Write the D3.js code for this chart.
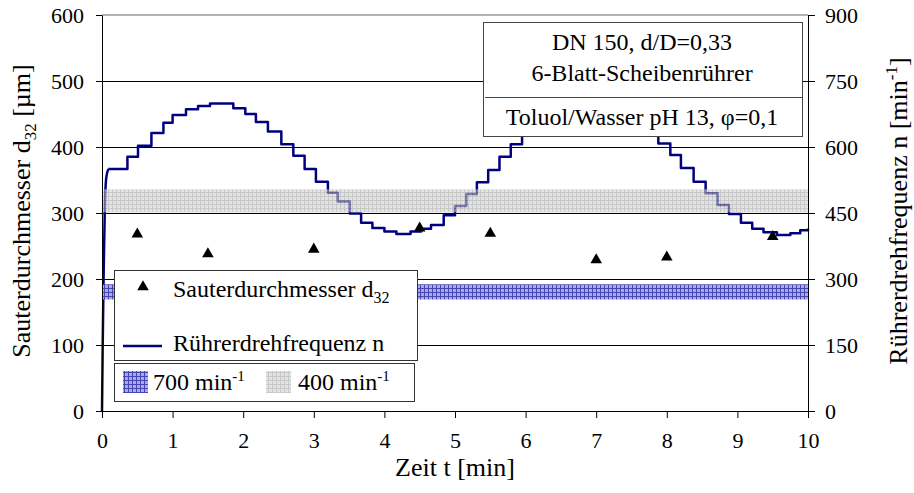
<!DOCTYPE html>
<html>
<head>
<meta charset="utf-8">
<script src="https://cdn.jsdelivr.net/npm/d3@7"></script>
<style>
  body { margin: 0; background: #fff; font-family: 'Times New Roman', 'Liberation Serif', Tinos, serif; }
  svg text, svg tspan { font-family: 'Times New Roman', 'Liberation Serif', Tinos, serif !important; }
</style>
</head>
<body>
<script>
// Sauter diameter measurements
var sampleTime = [0.5, 1.5, 3, 4.5, 5.5, 7, 8, 9.5];
var sauterD32 = [268, 238, 245, 277, 269, 229, 233, 264];

// stirrer speed: start-up ramp, then the stepped program
var rampTime = [0, 0.01, 0.025, 0.04, 0.06, 0.09];
var rampSpeed = [0, 150, 330, 460, 530, 550];
var stepTime = [0.09, 0.36, 0.51, 0.70, 0.87, 1.00, 1.19, 1.36, 1.53, 1.86, 2.03, 2.18, 2.35, 2.54, 2.71,
  2.87, 3.03, 3.20, 3.34, 3.51, 3.67, 3.83, 4.00, 4.17, 4.37, 4.52, 4.66, 4.84, 5.00, 5.16, 5.31, 5.47,
  5.63, 5.79, 5.95, 6.10, 6.26, 6.42, 6.58, 6.74, 7.05, 7.21, 7.37, 7.53, 7.70, 7.88, 8.05, 8.20, 8.38,
  8.55, 8.72, 8.88, 9.05, 9.21, 9.37, 9.56, 9.75, 9.89, 10.0];
var stepSpeed = [550, 578, 603, 632, 655, 673, 686, 693, 699, 688, 675, 657, 635, 606, 580,
  550, 521, 496, 476, 449, 428, 416, 408, 402, 408, 414, 423, 445, 466, 493, 520, 548,
  578, 606, 632, 655, 673, 686, 694, 699, 690, 676, 660, 645, 628, 608, 582, 552, 521,
  495, 468, 448, 428, 414, 406, 400, 404, 411, 415];

// d32 ranges at constant speed
var bandNames = ["700", "400"];
var bandLow = [169, 301];
var bandHigh = [192, 336];

var xTicks = [0, 1, 2, 3, 4, 5, 6, 7, 8, 9, 10];
var leftTicks = [0, 100, 200, 300, 400, 500, 600];
var rightTicks = [0, 150, 300, 450, 600, 750, 900];

var boxLines = ["DN 150, d/D=0,33", "6-Blatt-Scheibenrührer", "Toluol/Wasser pH 13, φ=0,1"];

var FONT = "'Times New Roman', 'Liberation Serif', serif";

var svg = d3.select("body").append("svg")
    .attr("width", 914)
    .attr("height", 493)
    .attr("font-family", FONT);

var x = d3.scaleLinear().domain([0, 10]).range([102, 808]);
var yL = d3.scaleLinear().domain([0, 600]).range([411, 15]);
var yR = d3.scaleLinear().domain([0, 900]).range([411, 15]);

// hatch patterns
var defs = svg.append("defs");
function pattern(id, bg, fg) {
  var p = defs.append("pattern").attr("id", id)
    .attr("width", 4).attr("height", 4)
    .attr("patternUnits", "userSpaceOnUse");
  p.append("rect").attr("width", 4).attr("height", 4).attr("fill", bg);
  p.append("path").attr("d", "M0,0.5H4M0.5,0V4").attr("stroke", fg).attr("stroke-width", 1);
}
pattern("p700", "#a8a8e6", "#4646b4");
pattern("p400", "#d0d0d0", "#a4a4a4");
var bandFill = ["url(#p700)", "url(#p400)"];
var bandOpacity = [1, 0.6];

// top border
svg.append("line")
    .attr("x1", x(0)).attr("x2", x(10))
    .attr("y1", yL(600)).attr("y2", yL(600))
    .attr("stroke", "#999").attr("stroke-width", 1.5);

// gridlines
svg.selectAll(".grid")
  .data(leftTicks.filter(function(d) { return d > 0 && d < 600; }))
  .enter().append("line")
    .attr("x1", x(0)).attr("x2", x(10))
    .attr("y1", function(d) { return Math.round(yL(d)) + 0.5; })
    .attr("y2", function(d) { return Math.round(yL(d)) + 0.5; })
    .attr("stroke", "#000").attr("stroke-width", 1);

// speed line
var lineRamp = d3.line()
    .x(function(d, i) { return x(rampTime[i]); })
    .y(function(d) { return yR(d); })
    .curve(d3.curveMonotoneX);
var lineStep = d3.line()
    .x(function(d, i) { return x(stepTime[i]); })
    .y(function(d) { return yR(d); })
    .curve(d3.curveStepAfter);

svg.append("path").attr("d", lineRamp(rampSpeed))
    .attr("fill", "none").attr("stroke", "#000080").attr("stroke-width", 2.5);
svg.append("path").attr("d", lineStep(stepSpeed))
    .attr("fill", "none").attr("stroke", "#000080").attr("stroke-width", 2.5)
    .attr("stroke-linejoin", "round");

// bands
svg.selectAll(".band")
  .data(bandNames)
  .enter().append("rect")
    .attr("x", x(0))
    .attr("width", x(10) - x(0))
    .attr("y", function(d, i) { return yL(bandHigh[i]); })
    .attr("height", function(d, i) { return yL(bandLow[i]) - yL(bandHigh[i]); })
    .attr("fill", function(d, i) { return bandFill[i]; })
    .attr("opacity", function(d, i) { return bandOpacity[i]; });

// triangles
svg.selectAll(".pt")
  .data(sauterD32)
  .enter().append("path")
    .attr("d", d3.symbol(d3.symbolTriangle, 58))
    .attr("transform", function(d, i) { return "translate(" + x(sampleTime[i]) + "," + yL(d) + ")"; })
    .attr("fill", "#000");

// axes
var gx = svg.append("g")
    .attr("transform", "translate(0,411)")
    .call(d3.axisBottom(x).tickValues(xTicks).tickSize(7).tickPadding(14).tickSizeOuter(0));
var gl = svg.append("g")
    .attr("transform", "translate(102,0)")
    .call(d3.axisLeft(yL).tickValues(leftTicks).tickSize(6).tickPadding(12).tickSizeOuter(0));
var gr = svg.append("g")
    .attr("transform", "translate(808,0)")
    .call(d3.axisRight(yR).tickValues(rightTicks).tickSize(7).tickPadding(10).tickSizeOuter(0));
[gx, gl, gr].forEach(function(g) {
  g.attr("font-family", FONT).attr("font-size", 22);
  g.selectAll("text").attr("fill", "#000");
  g.selectAll("line, path").attr("stroke", "#000");
});

// axis titles
svg.append("text")
    .attr("x", 455).attr("y", 476)
    .attr("text-anchor", "middle").attr("font-size", 26)
    .text("Zeit t [min]");

var tl = svg.append("text")
    .attr("transform", "translate(30,211) rotate(-90)")
    .attr("text-anchor", "middle").attr("font-size", 26);
tl.append("tspan").text("Sauterdurchmesser d");
tl.append("tspan").attr("font-size", 17).attr("dy", 6).text("32");
tl.append("tspan").attr("dy", -6).text(" [µm]");

var tr = svg.append("text")
    .attr("transform", "translate(907,211) rotate(-90)")
    .attr("text-anchor", "middle").attr("font-size", 26);
tr.append("tspan").text("Rührerdrehfrequenz n [min");
tr.append("tspan").attr("font-size", 17).attr("dy", -10).text("-1");
tr.append("tspan").attr("dy", 10).text("]");

// info box
var box = svg.append("g");
box.append("rect")
    .attr("x", 483.5).attr("y", 22.5).attr("width", 319).attr("height", 114)
    .attr("fill", "#fff").attr("stroke", "#444");
box.append("line")
    .attr("x1", 485).attr("x2", 803).attr("y1", 97.5).attr("y2", 97.5)
    .attr("stroke", "#444");
box.selectAll("text")
  .data(boxLines)
  .enter().append("text")
    .attr("x", 642)
    .attr("y", function(d, i) { return [50, 81, 125][i]; })
    .attr("text-anchor", "middle").attr("font-size", 24)
    .text(function(d) { return d; });

// legend
var lg = svg.append("g");
lg.append("rect").attr("x", 114.5).attr("y", 270.5).attr("width", 303).attr("height", 90)
    .attr("fill", "#fff").attr("stroke", "#333");
lg.append("rect").attr("x", 114.5).attr("y", 363.5).attr("width", 300).attr("height", 38)
    .attr("fill", "#fff").attr("stroke", "#333");
lg.append("path").attr("d", d3.symbol(d3.symbolTriangle, 58))
    .attr("transform", "translate(143,287)").attr("fill", "#000");
var t1 = lg.append("text").attr("x", 173).attr("y", 297).attr("font-size", 24);
t1.append("tspan").text("Sauterdurchmesser d");
t1.append("tspan").attr("font-size", 16).attr("dy", 6).text("32");
lg.append("line").attr("x1", 123).attr("x2", 162).attr("y1", 346).attr("y2", 346)
    .attr("stroke", "#000080").attr("stroke-width", 2.5);
lg.append("text").attr("x", 173).attr("y", 351).attr("font-size", 24).text("Rührerdrehfrequenz n");

var patchX = [123, 266];
var labelX = [153, 298];
bandNames.forEach(function(name, i) {
  lg.append("rect").attr("x", patchX[i]).attr("y", 371).attr("width", 25).attr("height", 22)
      .attr("fill", bandFill[i]).attr("opacity", bandOpacity[i]);
  var t = lg.append("text").attr("x", labelX[i]).attr("y", 390).attr("font-size", 24);
  t.append("tspan").text(name + " min");
  t.append("tspan").attr("font-size", 15).attr("dy", -9).text("-1");
});
</script>
</body>
</html>
